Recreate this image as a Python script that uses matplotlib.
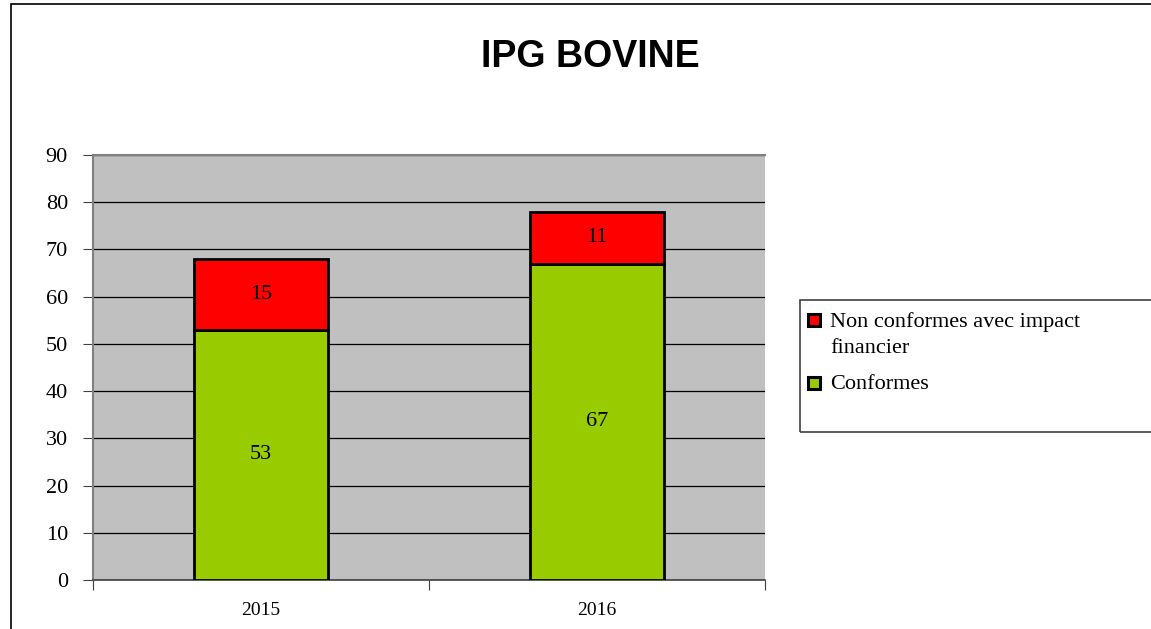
import matplotlib.pyplot as plt
from matplotlib.patches import Rectangle
import numpy as np

years = ["2015", "2016"]
conformes = [53, 67]
non_conformes = [15, 11]
yticks = [0, 10, 20, 30, 40, 50, 60, 70, 80, 90]
legend_labels = ["Non conformes avec impact\nfinancier", "Conformes"]

green = "#99CC00"
red = "#FF0000"
serif = "Liberation Serif"

fig = plt.figure(figsize=(11.51, 6.29), dpi=100)
ax = fig.add_axes([93 / 1151, 1 - 580 / 629, 672 / 1151, 425 / 629])
ax.set_facecolor("#C0C0C0")

x = np.arange(len(years))
ax.bar(x, conformes, width=0.4, color=green, edgecolor="black", linewidth=2, zorder=3)
ax.bar(x, non_conformes, width=0.4, bottom=conformes, color=red, edgecolor="black",
       linewidth=2, zorder=3)

for i in range(len(years)):
    ax.text(x[i], conformes[i] / 2, str(conformes[i]), ha="center", va="center",
            fontsize=16, family=serif, zorder=4)
    ax.text(x[i], conformes[i] + non_conformes[i] / 2, str(non_conformes[i]), ha="center",
            va="center", fontsize=16, family=serif, zorder=4)

ax.set_xlim(-0.5, 1.5)
ax.set_ylim(0, 90)
ax.set_yticks(yticks)
ax.set_yticklabels([str(v) for v in yticks], family=serif, fontsize=16)
ax.yaxis.grid(True, color="black", linewidth=0.9, zorder=1)
ax.set_axisbelow(True)

ax.set_xticks([-0.5, 0.5, 1.5])
ax.set_xticklabels([])
ax.set_xticks(x, minor=True)
ax.set_xticklabels(years, minor=True, family=serif, fontsize=14)
ax.tick_params(axis="x", which="major", length=7, direction="out", color="#404040")
ax.tick_params(axis="x", which="minor", length=0, pad=16)
ax.tick_params(axis="y", length=7, direction="out", color="#404040", pad=11)

for s in ["top", "left"]:
    ax.spines[s].set_color("#808080")
    ax.spines[s].set_linewidth(1.5)
ax.spines["right"].set_visible(False)
ax.spines["bottom"].set_color("#404040")
ax.spines["bottom"].set_linewidth(1.2)

fig.text(590 / 1151, 1 - 57 / 629, "IPG BOVINE", ha="center", va="center",
         fontsize=27, fontweight="bold", family="Liberation Sans")

# outer chart frame
fig.patches.append(Rectangle((11 / 1151, -0.1), 2, 1.1 - 4 / 629, transform=fig.transFigure,
                             fill=False, edgecolor="black", linewidth=1.2))
# legend frame
fig.patches.append(Rectangle((800 / 1151, 1 - 432 / 629), 1, 132 / 629, transform=fig.transFigure,
                             fill=False, edgecolor="#404040", linewidth=1.2))

# legend entries (handle aligned with the first text line, as in the original)
for lab, col, yc in [(legend_labels[0], red, 320), (legend_labels[1], green, 383)]:
    fig.patches.append(Rectangle((808 / 1151, 1 - (yc + 6) / 629), 12 / 1151, 12 / 629,
                                 transform=fig.transFigure, facecolor=col,
                                 edgecolor="black", linewidth=2.2))
    fig.text(830 / 1151, 1 - (yc - 8) / 629, lab, ha="left", va="top", fontsize=16,
             family=serif, linespacing=1.5)

fig.savefig("out.png", dpi=100)
